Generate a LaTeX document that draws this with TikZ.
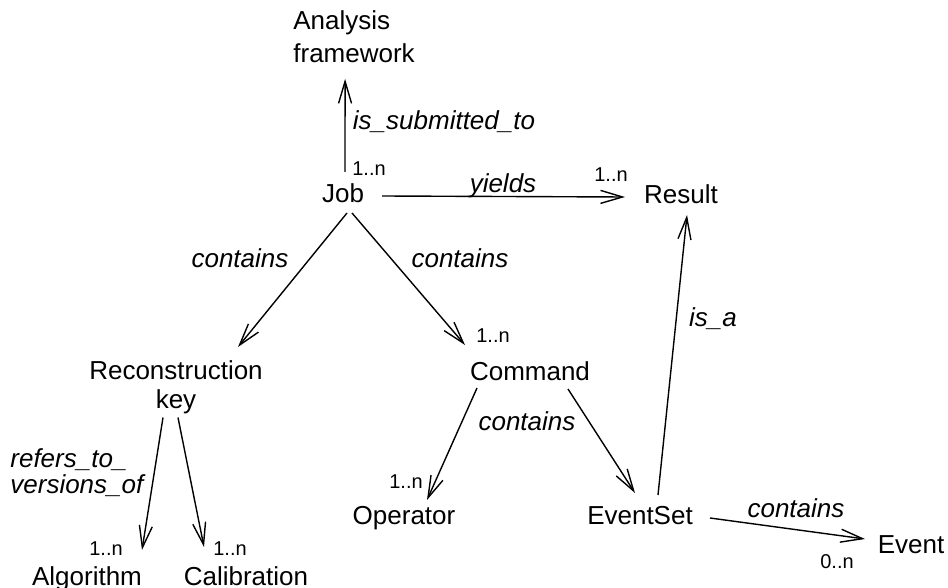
\documentclass[tikz,border=0pt]{standalone}
\usepackage{fontspec}
\setmainfont{Liberation Sans}
\usetikzlibrary{arrows.meta}
\begin{document}
\begin{tikzpicture}[x=0.5pt,y=-0.5pt,
	ent/.style={inner sep=0pt,anchor=base,font=\fontsize{13}{14.5}\selectfont},
	rel/.style={inner sep=0pt,anchor=base,font=\fontsize{13}{13}\selectfont\itshape},
	mult/.style={inner sep=0pt,anchor=base,font=\fontsize{10}{12}\selectfont},
	link/.style={line width=0.7pt,-{Straight Barb[length=11pt,width=6.5pt]}}]
	\useasboundingbox (0,0) rectangle (948,588);
	% entities
	\node[ent,anchor=north west,align=left,font=\fontsize{13}{16.5}\selectfont] (af) at (293,10) {Analysis\\framework};
	\node[ent] (job) at (343,203) {Job};
	\node[ent] (result) at (681,204) {Result};
	\node[ent,anchor=north,align=center] (recon) at (176,360) {Reconstruction\\key};
	\node[ent] (command) at (530,380) {Command};
	\node[ent] (operator) at (404,524) {Operator};
	\node[ent] (eventset) at (640,524) {EventSet};
	\node[ent] (event) at (911,553) {Event};
	\node[ent] (algo) at (87,585) {Algorithm};
	\node[ent] (calib) at (246,585) {Calibration};
	% relations
	\draw[link] ([shift={(2,-31)}]job.base) -- ([shift={(-9,16)}]af.south);
	\draw[link] ([shift={(39,-7)}]job.base) -- ([shift={(-56,-7)}]result.base);
	\draw[link] ([shift={(4,10)}]job.base) -- ([shift={(62,-13)}]recon.north);
	\draw[link] ([shift={(9,10)}]job.base) -- ([shift={(-65,-35)}]command.base);
	\draw[link] ([shift={(-53,8)}]command.base) -- ([shift={(23,-24)}]operator.base);
	\draw[link] ([shift={(38,9)}]command.base) -- ([shift={(-5,-31)}]eventset.base);
	\draw[link] ([shift={(18,-29)}]eventset.base) -- ([shift={(6,11)}]result.base);
	\draw[link] ([shift={(70,-6)}]eventset.base) -- ([shift={(-46,-14)}]event.base);
	\draw[link] ([shift={(-13,3.5)}]recon.south) -- ([shift={(55,-35)}]algo.base);
	\draw[link] ([shift={(2,3.5)}]recon.south) -- ([shift={(-42,-38)}]calib.base);
	% labels
	\node[rel] (submit) at (444,130) {is\_submitted\_to};
	\node[rel] (yields) at (503,193) {yields};
	\node[rel] (contl) at (240,268) {contains};
	\node[rel] (contr) at (460,268) {contains};
	\node[rel] (contc) at (527,430) {contains};
	\node[rel] (isa) at (713,327) {is\_a};
	\node[rel] (conte) at (796,517) {contains};
	\node[rel,anchor=north west,align=left] (refers) at (10,448) {refers\_to\_\\versions\_of};
	% multiplicities
	\node[mult] (mjob) at (369,176) {1..n};
	\node[mult] (mres) at (611,182) {1..n};
	\node[mult] (mcmd) at (493,343) {1..n};
	\node[mult] (mop) at (406,488) {1..n};
	\node[mult] (mev) at (837,568) {0..n};
	\node[mult] (malg) at (106,555) {1..n};
	\node[mult] (mcal) at (230,555) {1..n};
\end{tikzpicture}
\end{document}
